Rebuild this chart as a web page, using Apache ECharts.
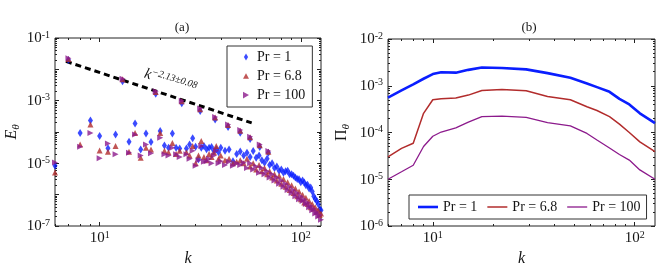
<!DOCTYPE html>
<html><head><meta charset="utf-8">
<script src="https://cdn.jsdelivr.net/npm/echarts@6/dist/echarts.min.js"></script>
<style>html,body{margin:0;padding:0;background:#fff}#c{width:667px;height:278px}</style>
</head><body><div id="c"></div>
<script>
// ---------- Panel (a): E_theta(k) scatter (values are log10 E) ----------
const baseK = [6,8,9,10,11,12,14,15,16,17,18,20,21,22,23,24,25,27,28,29,30,31,32,33,34,35,36,37,38,39,40,
  42,44,46,48,50,52,54,56,58,60,62,64,66,68,70,72,74,76,78,80,82,84,86,88,90,92,94,96,98,100,
  102,104,106,108,110,112,114,116,118,120,122,124,126];
const basePr1 = [-5.08,-4.03,-3.63,-4.13,-4.52,-4.08,-4.31,-3.73,-4.56,-4.05,-4.32,-3.97,-4.43,-4.50,-4.05,-4.50,-4.53,-4.53,-4.40,-4.20,-4.47,-4.87,-4.50,-4.45,-4.55,-4.50,-4.48,-4.61,-4.55,-4.65,-4.50,
  -4.60,-4.56,-4.93,-4.70,-4.62,-4.75,-4.66,-4.80,-4.61,-4.82,-4.75,-4.90,-4.98,-4.85,-5.05,-5.00,-5.15,-5.10,-5.24,-5.20,-5.30,-5.25,-5.24,-5.35,-5.35,-5.40,-5.45,-5.50,-5.51,-5.60,
  -5.55,-5.61,-5.70,-5.68,-5.80,-5.77,-5.90,-6.05,-6.14,-6.20,-6.30,-6.46,-6.50];
const basePr68 = [-5.29,-4.40,-3.76,-4.59,-4.63,-4.45,-4.63,-4.03,-4.82,-4.50,-4.56,-4.03,-4.60,-4.65,-4.35,-4.70,-4.60,-4.65,-4.75,-4.45,-5.00,-4.75,-4.29,-4.80,-4.90,-4.70,-4.80,-4.65,-4.45,-4.85,-4.75,
  -4.90,-4.85,-5.00,-4.95,-4.90,-5.00,-4.85,-5.10,-5.00,-5.20,-5.05,-5.25,-5.15,-5.35,-5.25,-5.45,-5.35,-5.55,-5.40,-5.65,-5.50,-5.75,-5.60,-5.85,-5.70,-5.95,-5.80,-6.05,-5.90,-6.15,
  -6.00,-6.25,-6.10,-6.30,-6.20,-6.40,-6.30,-6.45,-6.40,-6.55,-6.50,-6.65,-6.60];
const basePr100 = [-4.97,-4.47,-4.03,-4.84,-4.37,-4.71,-4.66,-4.08,-4.75,-4.40,-4.68,-4.18,-4.71,-4.75,-4.50,-4.71,-4.80,-4.71,-4.85,-4.60,-5.08,-4.90,-4.45,-4.95,-4.93,-4.85,-5.00,-4.75,-4.60,-5.00,-4.93,
  -5.05,-4.95,-5.08,-5.00,-5.05,-4.98,-5.15,-5.00,-5.20,-5.10,-5.30,-5.15,-5.35,-5.25,-5.45,-5.35,-5.55,-5.45,-5.65,-5.55,-5.75,-5.65,-5.85,-5.75,-5.95,-5.85,-6.05,-5.95,-6.15,-6.05,
  -6.20,-6.15,-6.30,-6.25,-6.40,-6.35,-6.50,-6.45,-6.60,-6.55,-6.70,-6.65,-6.80];
const peakK = [7,13,19,25.6,31.6,37.5,43.5,50,56,62.5,69];
const peakPr1 = [-1.70,-2.38,-2.78,-3.08,-3.33,-3.60,-3.84,-4.02,-4.22,-4.48,-4.66];
const peakPr68 = [-1.67,-2.32,-2.72,-3.02,-3.27,-3.54,-3.78,-3.96,-4.17,-4.42,-4.63];
const peakPr100 = [-1.65,-2.30,-2.70,-3.00,-3.25,-3.52,-3.76,-3.94,-4.15,-4.40,-4.61];
const fitK = [6.8, 57];
const fitE = [1.8e-2, 1.95e-4];
const fitText = '\u22122.13\u00b10.08';

// ---------- Panel (b): Pi_theta(k) lines (values are log10 Pi) ----------
const fluxK = [6,7,8,9,10,11,13,15,17.5,22,29,37,48,58,65,75,84,94,106,126];
const fluxPr1 = [-3.255,-3.10,-2.97,-2.85,-2.75,-2.71,-2.72,-2.66,-2.61,-2.62,-2.65,-2.73,-2.83,-2.95,-3.03,-3.13,-3.28,-3.40,-3.59,-3.80];
const fluxPr68 = [-4.52,-4.34,-4.23,-3.59,-3.30,-3.28,-3.26,-3.20,-3.10,-3.08,-3.105,-3.23,-3.30,-3.45,-3.53,-3.66,-3.82,-4.00,-4.20,-4.41];
const fluxPr100 = [-5.00,-4.84,-4.70,-4.30,-4.08,-3.99,-3.90,-3.78,-3.66,-3.65,-3.675,-3.79,-3.86,-4.02,-4.16,-4.33,-4.47,-4.59,-4.80,-5.00];

// ---------- labels / ticks ----------
const names = ['Pr = 1', 'Pr = 6.8', 'Pr = 100'];
const namesB = ['Pr\u00a0=\u00a01', 'Pr\u00a0=\u00a06.8', 'Pr\u00a0=\u00a0100'];
const xTickVals = [10, 100];
const yTickA = [1e-7, 1e-5, 1e-3, 1e-1];
const yMajorA = [1e-7, 1e-6, 1e-5, 1e-4, 1e-3, 1e-2, 1e-1];
const yTickB = [1e-6, 1e-5, 1e-4, 1e-3, 1e-2];

const FONT = "'Liberation Serif','DejaVu Serif',serif";
const C1 = '#0a1eff', C2 = '#b22c2c', C3 = '#8c1a8c';
const TXT = '#151515';

function minors(lo, hi) {
  const out = [];
  for (let d = lo; d <= hi; d++) for (let m = 2; m <= 9; m++) out.push(Number((m * Math.pow(10, d)).toPrecision(6)));
  return out;
}
const xMinor = minors(0, 2).filter(v => v >= 6 && v <= 126);
const yMinorA = minors(-7, -2);
const yMinorB = minors(-6, -3);

const RICH = {
  b: {fontFamily: FONT, fontSize: 15, color: TXT, lineHeight: 16, verticalAlign: 'bottom'},
  s: {fontFamily: FONT, fontSize: 10, color: TXT, lineHeight: 10, verticalAlign: 'top'}
};
function powLabel(v) { return '{b|10}{s|' + Math.round(Math.log10(v)) + '}'; }

const tickLine = {color: '#222', width: 1};
const gridA = {left: 55, top: 38, width: 266, height: 188};
const gridB = {left: 388, top: 39, width: 267, height: 187};

function xAx(g, pos, ticks, len, labels, name) {
  const a = {
    type: 'log', logBase: 10, gridIndex: g, position: pos, min: 6, max: 126,
    axisLine: {show: false}, splitLine: {show: false},
    axisTick: {show: true, inside: true, length: len, customValues: ticks, lineStyle: tickLine},
    axisLabel: labels ? {show: true, customValues: labels, formatter: powLabel, rich: RICH, margin: 4} : {show: false}
  };
  if (name) {
    a.name = name; a.nameLocation = 'middle'; a.nameGap = 21;
    a.nameTextStyle = {fontFamily: FONT, fontStyle: 'italic', fontSize: 16, color: TXT};
  }
  return a;
}
function yAx(g, pos, mn, mx, ticks, len, labels, name, gap) {
  const a = {
    type: 'log', logBase: 10, gridIndex: g, position: pos, min: mn, max: mx,
    axisLine: {show: false}, splitLine: {show: false},
    axisTick: {show: true, inside: true, length: len, customValues: ticks, lineStyle: tickLine},
    axisLabel: labels ? {show: true, customValues: labels, formatter: powLabel, rich: RICH, margin: 5} : {show: false}
  };
  if (name) {
    a.name = name; a.nameLocation = 'middle'; a.nameGap = gap; a.nameRotate = 90;
    a.nameTextStyle = {rich: {
      i: {fontFamily: FONT, fontStyle: 'italic', fontSize: 16, color: TXT},
      u: {fontFamily: FONT, fontSize: 16, color: TXT},
      sub: {fontFamily: FONT, fontStyle: 'italic', fontSize: 11, color: TXT, verticalAlign: 'bottom', lineHeight: 20}
    }};
  }
  return a;
}

const toPts = (ks, logs) => ks.map((k, i) => [k, Math.pow(10, logs[i])]);
const lineIcon = h => 'path://M0,0 L20,0 L20,' + h + ' L0,' + h + ' Z';

const chart = echarts.init(document.getElementById('c'), null, {renderer: 'canvas'});
chart.setOption({
  animation: false,
  backgroundColor: '#fff',
  title: [
    {text: '(a)', left: 177, top: 16, textAlign: 'center', textStyle: {fontFamily: FONT, fontSize: 13, fontWeight: 'normal', color: TXT}},
    {text: '(b)', left: 524, top: 16, textAlign: 'center', textStyle: {fontFamily: FONT, fontSize: 13, fontWeight: 'normal', color: TXT}}
  ],
  grid: [
    Object.assign({show: true, borderColor: '#222', borderWidth: 1, backgroundColor: 'transparent'}, gridA),
    Object.assign({show: true, borderColor: '#222', borderWidth: 1, backgroundColor: 'transparent'}, gridB),
    Object.assign({show: false}, gridA),
    Object.assign({show: false}, gridB)
  ],
  xAxis: [
    xAx(0, 'bottom', xTickVals, 4, xTickVals, 'k'),
    xAx(0, 'top', xTickVals, 4, null),
    xAx(1, 'bottom', xTickVals, 4, xTickVals, 'k'),
    xAx(1, 'top', xTickVals, 4, null),
    xAx(2, 'bottom', xMinor, 2, null),
    xAx(2, 'top', xMinor, 2, null),
    xAx(3, 'bottom', xMinor, 2, null),
    xAx(3, 'top', xMinor, 2, null)
  ],
  yAxis: [
    yAx(0, 'left', 1e-7, 1e-1, yMajorA, 4, yTickA, '{i|E}{sub|\u03b8}', 33),
    yAx(0, 'right', 1e-7, 1e-1, yMajorA, 4, null),
    yAx(1, 'left', 1e-6, 1e-2, yTickB, 4, yTickB, '{u|\u03a0}{sub|\u03b8}', 36),
    yAx(1, 'right', 1e-6, 1e-2, yTickB, 4, null),
    yAx(2, 'left', 1e-7, 1e-1, yMinorA, 2, null),
    yAx(2, 'right', 1e-7, 1e-1, yMinorA, 2, null),
    yAx(3, 'left', 1e-6, 1e-2, yMinorB, 2, null),
    yAx(3, 'right', 1e-6, 1e-2, yMinorB, 2, null)
  ],
  legend: [
    {
      orient: 'vertical', left: 227, top: 46, itemWidth: 6, itemHeight: 7, itemGap: 3,
      padding: [3, 7, 4, 16], borderColor: '#333', borderWidth: 1, backgroundColor: '#fff',
      textStyle: {fontFamily: FONT, fontSize: 14, color: TXT, lineHeight: 16, padding: [0, 0, 0, 3]},
      data: [
        {name: names[0], icon: 'path://M3,0 L6,5 L3,10 L0,5 Z'},
        {name: names[1], icon: 'path://M0,8 L4.5,0 L9,8 Z'},
        {name: names[2], icon: 'path://M0,0 L8,4.5 L0,9 Z'}
      ]
    },
    {
      orient: 'horizontal', left: 409, top: 195, itemWidth: 20, itemHeight: 8, itemGap: 10,
      padding: [4, 6, 4, 9], borderColor: '#333', borderWidth: 1, backgroundColor: '#fff',
      textStyle: {fontFamily: FONT, fontSize: 14, color: TXT, lineHeight: 16},
      data: [
        {name: namesB[0], icon: lineIcon(2.6)},
        {name: namesB[1], icon: lineIcon(1.5)},
        {name: namesB[2], icon: lineIcon(1.3)}
      ]
    }
  ],
  series: [
    {
      type: 'line', xAxisIndex: 0, yAxisIndex: 0, data: fitK.map((k, i) => [k, fitE[i]]),
      symbol: 'none', silent: true, z: 1,
      lineStyle: {color: '#000', width: 3, type: [6, 4]},
      markPoint: {
        symbol: 'circle', symbolSize: 1, itemStyle: {color: 'rgba(0,0,0,0)'}, silent: true,
        data: [{coord: [22.5, 4.3e-3],
          label: {show: true, position: 'inside', rotate: -17, formatter: '{k|k}{s|' + fitText + '}',
            rich: {
              k: {fontFamily: FONT, fontStyle: 'italic', fontSize: 15, color: TXT, lineHeight: 16, verticalAlign: 'bottom'},
              s: {fontFamily: FONT, fontStyle: 'italic', fontSize: 10, color: TXT, lineHeight: 10, verticalAlign: 'top'}
            }}}]
      }
    },
    {name: names[0], type: 'scatter', xAxisIndex: 0, yAxisIndex: 0, symbol: 'diamond', symbolSize: [5, 8],
      itemStyle: {color: C1}, z: 2, data: toPts(baseK, basePr1).concat(toPts(peakK, peakPr1))},
    {name: names[1], type: 'scatter', xAxisIndex: 0, yAxisIndex: 0, symbol: 'triangle', symbolSize: 6,
      itemStyle: {color: C2}, z: 3, data: toPts(baseK, basePr68).concat(toPts(peakK, peakPr68))},
    {name: names[2], type: 'scatter', xAxisIndex: 0, yAxisIndex: 0, symbol: 'triangle', symbolRotate: -90, symbolSize: 6,
      itemStyle: {color: C3}, z: 4, data: toPts(baseK, basePr100).concat(toPts(peakK, peakPr100))},
    {name: namesB[0], type: 'line', xAxisIndex: 2, yAxisIndex: 2, symbol: 'none', smooth: false,
      lineStyle: {color: C1, width: 2.6}, itemStyle: {color: C1}, data: toPts(fluxK, fluxPr1)},
    {name: namesB[1], type: 'line', xAxisIndex: 2, yAxisIndex: 2, symbol: 'none',
      lineStyle: {color: C2, width: 1.5}, itemStyle: {color: C2}, data: toPts(fluxK, fluxPr68)},
    {name: namesB[2], type: 'line', xAxisIndex: 2, yAxisIndex: 2, symbol: 'none',
      lineStyle: {color: C3, width: 1.3}, itemStyle: {color: C3}, data: toPts(fluxK, fluxPr100)}
  ]
});
</script>
</body></html>
